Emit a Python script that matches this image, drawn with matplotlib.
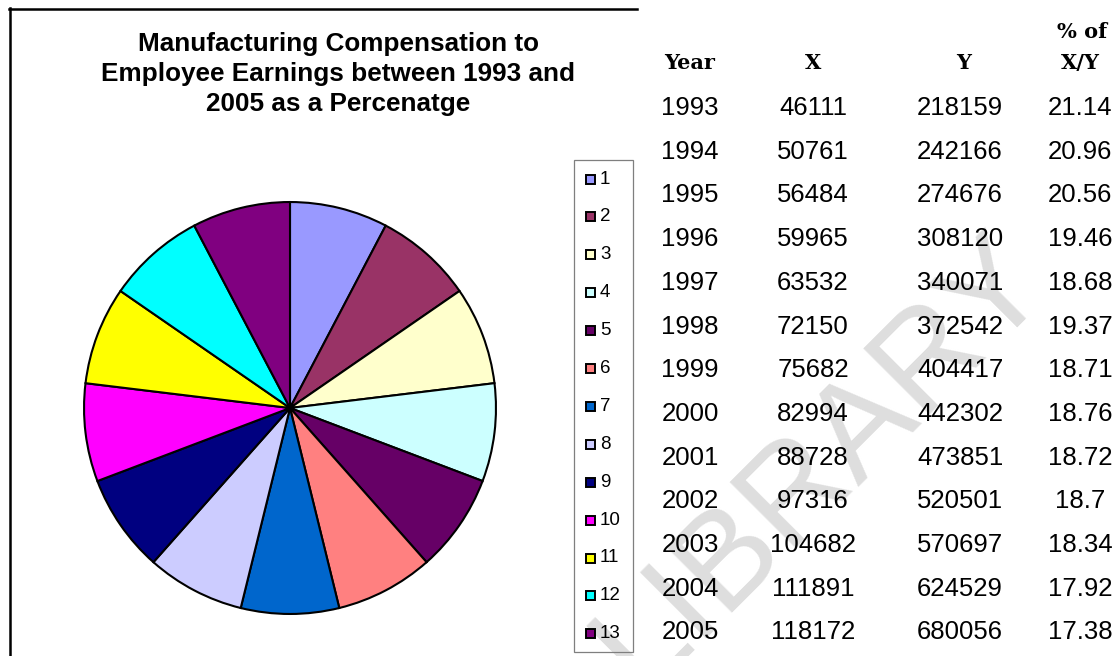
import matplotlib
matplotlib.use("Agg")
import matplotlib.pyplot as plt
from matplotlib.patches import Rectangle
from matplotlib.lines import Line2D

# ---------------- data ----------------
years = [1993, 1994, 1995, 1996, 1997, 1998, 1999, 2000, 2001, 2002, 2003, 2004, 2005]
x_vals = [46111, 50761, 56484, 59965, 63532, 72150, 75682, 82994, 88728, 97316, 104682, 111891, 118172]
y_vals = [218159, 242166, 274676, 308120, 340071, 372542, 404417, 442302, 473851, 520501, 570697, 624529, 680056]
pct_labels = ["21.14", "20.96", "20.56", "19.46", "18.68", "19.37", "18.71",
              "18.76", "18.72", "18.7", "18.34", "17.92", "17.38"]
# the pie in the reference shows 13 equal slices
pie_values = [1, 1, 1, 1, 1, 1, 1, 1, 1, 1, 1, 1, 1]
legend_labels = ["1", "2", "3", "4", "5", "6", "7", "8", "9", "10", "11", "12", "13"]
slice_colors = ["#9999FF", "#993366", "#FFFFCC", "#CCFFFF", "#660066", "#FF8080", "#0066CC",
                "#CCCCFF", "#000080", "#FF00FF", "#FFFF00", "#00FFFF", "#800080"]
title = "Manufacturing Compensation to\nEmployee Earnings between 1993 and\n2005 as a Percenatge"
headers = ["Year", "X", "Y", "X/Y"]

W, H = 1120, 656
fig = plt.figure(figsize=(W / 100, H / 100), dpi=100)
fig.patch.set_facecolor("white")


def fx(x):
    return x / W


def fy(y):
    return 1 - y / H


SANS = "Liberation Sans"
SERIF = "DejaVu Serif"

# ---------------- watermark ----------------
fig.text(fx(822), fy(462), "LIBRARY", rotation=45, ha="center", va="center",
         fontsize=98, color="#dedede", family=SANS, zorder=0,
         rotation_mode="anchor")

# ---------------- chart border ----------------
fig.add_artist(Line2D([fx(9), fx(637)], [fy(8.5), fy(8.5)], color="black", lw=1.8,
                      transform=fig.transFigure))
fig.add_artist(Line2D([fx(9.5), fx(9.5)], [fy(8), fy(660)], color="black", lw=1.8,
                      transform=fig.transFigure))

# ---------------- title ----------------
fig.text(fx(338), fy(74), title, ha="center", va="center", fontsize=18.8,
         fontweight="bold", family=SANS, linespacing=1.32)

# ---------------- pie ----------------
cx, cy, r = 290, 408, 207
ax = fig.add_axes([fx(cx - r), fy(cy + r), 2 * r / W, 2 * r / H])
ax.pie(pie_values, colors=slice_colors, startangle=90, counterclock=False, radius=1,
       wedgeprops=dict(edgecolor="black", linewidth=1.5))
ax.set_xlim(-1.005, 1.005)
ax.set_ylim(-1.005, 1.005)
ax.set_aspect("equal")
ax.axis("off")

# ---------------- legend ----------------
lx0, lx1, ly0, ly1 = 574, 633, 160, 652
fig.add_artist(Rectangle((fx(lx0), fy(ly1)), (lx1 - lx0) / W, (ly1 - ly0) / H,
                         transform=fig.transFigure, facecolor="none",
                         edgecolor="#7f7f7f", lw=0.9, zorder=1))
for i, (lab, col) in enumerate(zip(legend_labels, slice_colors)):
    yy = 179 + i * 37.9
    fig.add_artist(Rectangle((fx(586), fy(yy + 4.5)), 9 / W, 9 / H,
                             transform=fig.transFigure, facecolor=col,
                             edgecolor="black", lw=1.4, zorder=2))
    fig.text(fx(600), fy(yy), lab, ha="left", va="center", fontsize=13.5,
             family=SANS, zorder=3)

# ---------------- table ----------------
col_x = [690, 813, 960, 1080]
hdr_kw = dict(ha="center", va="center", fontsize=15, family=SERIF,
              fontweight="bold", zorder=3)
fig.text(fx(col_x[0]), fy(63), headers[0], **hdr_kw)
fig.text(fx(col_x[1]), fy(63), headers[1], **hdr_kw)
fig.text(fx(964), fy(63), headers[2], **hdr_kw)
fig.text(fx(1082), fy(32), "% of", **hdr_kw)
fig.text(fx(col_x[3]), fy(63), headers[3], **hdr_kw)

for i in range(len(years)):
    yy = 108 + i * 43.7
    vals = [str(years[i]), str(x_vals[i]), str(y_vals[i]), pct_labels[i]]
    for cxp, v in zip(col_x, vals):
        fig.text(fx(cxp), fy(yy), v, ha="center", va="center", fontsize=18.5,
                 family=SANS, zorder=3)

fig.savefig("out.png", dpi=100, facecolor="white")
